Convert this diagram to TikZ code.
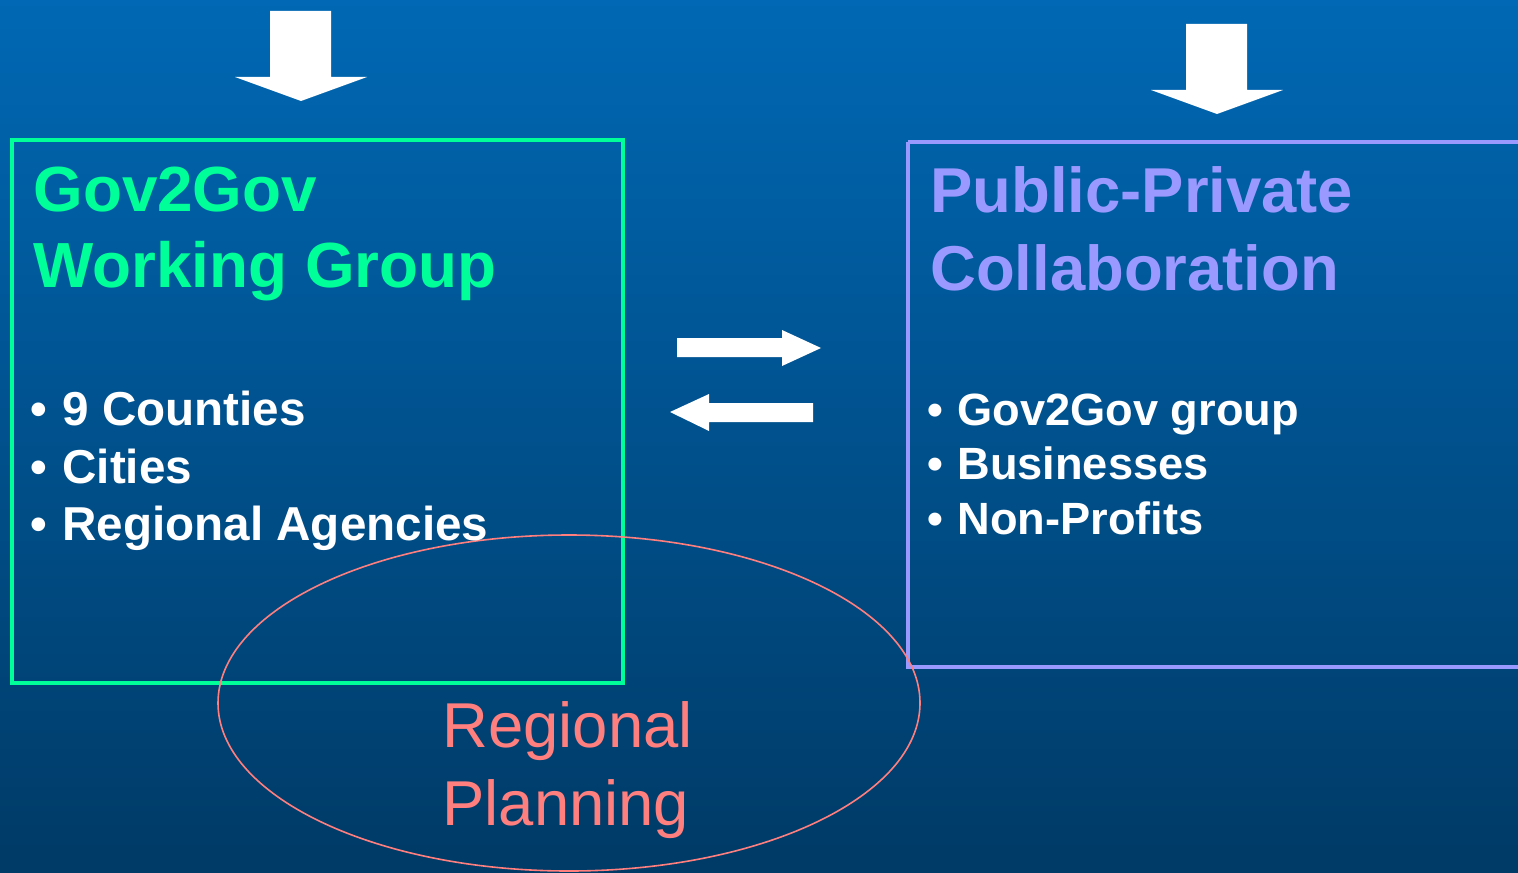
\documentclass[tikz,border=0pt]{standalone}
\usepackage{fontspec}
\setmainfont{Liberation Sans}
\definecolor{bgtop}{HTML}{0068B4}
\definecolor{bgbot}{HTML}{003A66}
\definecolor{govgreen}{HTML}{00FF99}
\definecolor{pplav}{HTML}{9999FF}
\definecolor{rpsalmon}{HTML}{FF7F7F}
\tikzset{
  txt/.style={inner sep=0pt, anchor=base west},
  title/.style={txt, font=\fontsize{31.7}{38}\bfseries\selectfont},
  ltitle/.style={txt, font=\fontsize{31.9}{38}\bfseries\selectfont},
  item/.style={txt, text=white, font=\fontsize{22.6}{27}\bfseries\selectfont},
  litem/.style={txt, text=white, font=\fontsize{23.8}{28}\bfseries\selectfont},
  plan/.style={txt, text=rpsalmon, font=\fontsize{31.7}{38}\selectfont},
  blockarrow/.style={fill=white, draw=none}
}
\begin{document}
\begin{tikzpicture}[x=0.5pt,y=-0.5pt]
\useasboundingbox (0,0) rectangle (1518,872);
\shade[top color=bgtop, bottom color=bgbot] (0,0) rectangle (1518,872);
% top arrows
\fill[blockarrow] (270,11) -- (331,11) -- (331,77) -- (367,77) -- (301,101) -- (235,77) -- (270,77) -- cycle;
\fill[blockarrow] (1186,24) -- (1247,24) -- (1247,90) -- (1283,90) -- (1217,114) -- (1151,90) -- (1186,90) -- cycle;
% middle arrows
\fill[blockarrow] (677,338) -- (782,338) -- (782,330) -- (821,348) -- (782,366) -- (782,357) -- (677,357) -- cycle;
\fill[blockarrow] (813,403) -- (709,403) -- (709,394) -- (670,412) -- (709,431) -- (709,422) -- (813,422) -- cycle;
% boxes
\draw[govgreen, line width=2pt] (12,140) rectangle (623,683);
\draw[pplav, line width=2pt] (908,142) -- (1530,142) (908,142) -- (908,667) -- (1530,667);
% ellipse
\draw[rpsalmon, line width=0.8pt] (569,703) ellipse [x radius=351, y radius=168];
% left texts
\node[ltitle, text=govgreen] (g1) at (33,211) {Gov2Gov};
\node[ltitle, text=govgreen] (g2) at (33,287) {Working Group};
\node[litem] (b1) at (30,425) {•};
\node[litem] (t1) at (62,425) {9 Counties};
\node[litem] (b2) at (30,483) {•};
\node[litem] (t2) at (62,483) {Cities};
\node[litem] (b3) at (30,540) {•};
\node[litem] (t3) at (62,540) {Regional Agencies};
% right texts
\node[title, text=pplav] (p1) at (930,212) {Public-Private};
\node[title, text=pplav] (p2) at (930,290) {Collaboration};
\node[item] (c1) at (927,425) {•};
\node[item] (s1) at (957,425) {Gov2Gov group};
\node[item] (c2) at (927,479) {•};
\node[item] (s2) at (957,479) {Businesses};
\node[item] (c3) at (927,534) {•};
\node[item] (s3) at (957,534) {Non-Profits};
% planning
\node[plan] (r1) at (442,747) {Regional};
\node[plan] (r2) at (442,825) {Planning};
\end{tikzpicture}
\end{document}
